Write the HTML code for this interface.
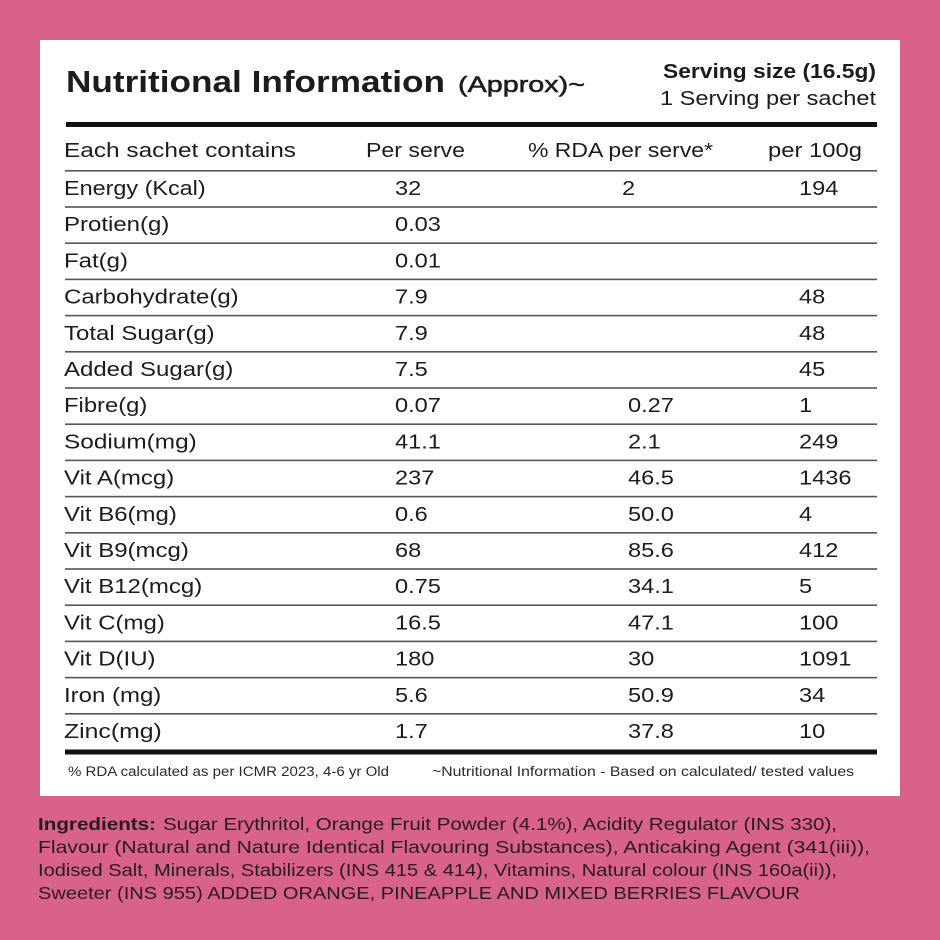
<!DOCTYPE html>
<html>
<head>
<meta charset="utf-8">
<style>
  html,body{margin:0;padding:0;background:#d8628a;}
  svg{display:block;}
  text{font-family:"Liberation Sans",sans-serif;}
</style>
</head>
<body>
<svg width="940" height="940" viewBox="0 0 940 940" xmlns="http://www.w3.org/2000/svg">
  <rect x="0" y="0" width="940" height="940" fill="#d8628a"/>
  <rect x="40" y="40" width="860" height="756" fill="#ffffff"/>

  <!-- Title -->
  <text x="66" y="92" font-size="31" font-weight="bold" fill="#1c1c1c" textLength="379" lengthAdjust="spacingAndGlyphs">Nutritional Information</text>
  <text x="458" y="92" font-size="22" fill="#1c1c1c" stroke="#1c1c1c" stroke-width="0.5" textLength="127" lengthAdjust="spacingAndGlyphs">(Approx)~</text>

  <text x="663" y="78" font-size="20" font-weight="bold" fill="#1c1c1c" textLength="213" lengthAdjust="spacingAndGlyphs">Serving size (16.5g)</text>
  <text x="660" y="105" font-size="20" fill="#1c1c1c" textLength="216" lengthAdjust="spacingAndGlyphs">1 Serving per sachet</text>

  <!-- thick top line -->
  <rect x="66" y="122" width="811" height="5" fill="#111"/>

  <!-- header -->
  <g font-size="20" fill="#1c1c1c">
    <text x="64" y="157" textLength="232" lengthAdjust="spacingAndGlyphs">Each sachet contains</text>
    <text x="366" y="157" textLength="99" lengthAdjust="spacingAndGlyphs">Per serve</text>
    <text x="528" y="157" textLength="185" lengthAdjust="spacingAndGlyphs">% RDA per serve*</text>
    <text x="768" y="157" textLength="94" lengthAdjust="spacingAndGlyphs">per 100g</text>
  </g>

  <!-- row lines -->
  <g fill="#555">
    <rect x="65" y="170" width="812" height="1.6"/>
    <rect x="65" y="206.2" width="812" height="1.6"/>
    <rect x="65" y="242.4" width="812" height="1.6"/>
    <rect x="65" y="278.6" width="812" height="1.6"/>
    <rect x="65" y="314.8" width="812" height="1.6"/>
    <rect x="65" y="351" width="812" height="1.6"/>
    <rect x="65" y="387.2" width="812" height="1.6"/>
    <rect x="65" y="423.4" width="812" height="1.6"/>
    <rect x="65" y="459.6" width="812" height="1.6"/>
    <rect x="65" y="495.8" width="812" height="1.6"/>
    <rect x="65" y="532" width="812" height="1.6"/>
    <rect x="65" y="568.2" width="812" height="1.6"/>
    <rect x="65" y="604.4" width="812" height="1.6"/>
    <rect x="65" y="640.6" width="812" height="1.6"/>
    <rect x="65" y="676.8" width="812" height="1.6"/>
    <rect x="65" y="713" width="812" height="1.6"/>
  </g>
  <!-- thick bottom line -->
  <rect x="65" y="749.5" width="812" height="5" fill="#111"/>

  <!-- rows -->
  <g font-size="20" fill="#1c1c1c">
    <text transform="translate(64,195) scale(1.17,1)">Energy (Kcal)</text>
    <text transform="translate(395,195) scale(1.18,1)">32</text>
    <text transform="translate(622,195) scale(1.18,1)">2</text>
    <text transform="translate(799,195) scale(1.18,1)">194</text>

    <text transform="translate(64,231.2) scale(1.2,1)">Protien(g)</text>
    <text transform="translate(395,231.2) scale(1.18,1)">0.03</text>

    <text transform="translate(64,267.4) scale(1.2,1)">Fat(g)</text>
    <text transform="translate(395,267.4) scale(1.18,1)">0.01</text>

    <text transform="translate(64,303.6) scale(1.2,1)">Carbohydrate(g)</text>
    <text transform="translate(395,303.6) scale(1.18,1)">7.9</text>
    <text transform="translate(799,303.6) scale(1.18,1)">48</text>

    <text transform="translate(64,339.8) scale(1.2,1)">Total Sugar(g)</text>
    <text transform="translate(395,339.8) scale(1.18,1)">7.9</text>
    <text transform="translate(799,339.8) scale(1.18,1)">48</text>

    <text transform="translate(64,376) scale(1.2,1)">Added Sugar(g)</text>
    <text transform="translate(395,376) scale(1.18,1)">7.5</text>
    <text transform="translate(799,376) scale(1.18,1)">45</text>

    <text transform="translate(64,412.2) scale(1.19,1)">Fibre(g)</text>
    <text transform="translate(395,412.2) scale(1.18,1)">0.07</text>
    <text transform="translate(628,412.2) scale(1.18,1)">0.27</text>
    <text transform="translate(799,412.2) scale(1.18,1)">1</text>

    <text transform="translate(64,448.4) scale(1.22,1)">Sodium(mg)</text>
    <text transform="translate(395,448.4) scale(1.18,1)">41.1</text>
    <text transform="translate(628,448.4) scale(1.18,1)">2.1</text>
    <text transform="translate(799,448.4) scale(1.18,1)">249</text>

    <text transform="translate(64,484.6) scale(1.2,1)">Vit A(mcg)</text>
    <text transform="translate(395,484.6) scale(1.18,1)">237</text>
    <text transform="translate(628,484.6) scale(1.18,1)">46.5</text>
    <text transform="translate(799,484.6) scale(1.18,1)">1436</text>

    <text transform="translate(64,520.8) scale(1.2,1)">Vit B6(mg)</text>
    <text transform="translate(395,520.8) scale(1.18,1)">0.6</text>
    <text transform="translate(628,520.8) scale(1.18,1)">50.0</text>
    <text transform="translate(799,520.8) scale(1.18,1)">4</text>

    <text transform="translate(64,557) scale(1.2,1)">Vit B9(mcg)</text>
    <text transform="translate(395,557) scale(1.18,1)">68</text>
    <text transform="translate(628,557) scale(1.18,1)">85.6</text>
    <text transform="translate(799,557) scale(1.18,1)">412</text>

    <text transform="translate(64,593.2) scale(1.2,1)">Vit B12(mcg)</text>
    <text transform="translate(395,593.2) scale(1.18,1)">0.75</text>
    <text transform="translate(628,593.2) scale(1.18,1)">34.1</text>
    <text transform="translate(799,593.2) scale(1.18,1)">5</text>

    <text transform="translate(64,629.4) scale(1.2,1)">Vit C(mg)</text>
    <text transform="translate(395,629.4) scale(1.18,1)">16.5</text>
    <text transform="translate(628,629.4) scale(1.18,1)">47.1</text>
    <text transform="translate(799,629.4) scale(1.18,1)">100</text>

    <text transform="translate(64,665.6) scale(1.2,1)">Vit D(IU)</text>
    <text transform="translate(395,665.6) scale(1.18,1)">180</text>
    <text transform="translate(628,665.6) scale(1.18,1)">30</text>
    <text transform="translate(799,665.6) scale(1.18,1)">1091</text>

    <text transform="translate(64,701.8) scale(1.2,1)">Iron (mg)</text>
    <text transform="translate(395,701.8) scale(1.18,1)">5.6</text>
    <text transform="translate(628,701.8) scale(1.18,1)">50.9</text>
    <text transform="translate(799,701.8) scale(1.18,1)">34</text>

    <text transform="translate(64,738) scale(1.24,1)">Zinc(mg)</text>
    <text transform="translate(395,738) scale(1.18,1)">1.7</text>
    <text transform="translate(628,738) scale(1.18,1)">37.8</text>
    <text transform="translate(799,738) scale(1.18,1)">10</text>
  </g>

  <!-- footnotes -->
  <g font-size="13.5" fill="#2a2a2a">
    <text x="68" y="776" textLength="321" lengthAdjust="spacingAndGlyphs">% RDA calculated as per ICMR 2023, 4-6 yr Old</text>
    <text x="432" y="776" textLength="422" lengthAdjust="spacingAndGlyphs">~Nutritional Information - Based on calculated/ tested values</text>
  </g>

  <!-- ingredients -->
  <g font-size="17.5" fill="#2a1a20">
    <text x="38" y="830" font-weight="bold" textLength="118" lengthAdjust="spacingAndGlyphs">Ingredients:</text>
    <text x="163" y="830" textLength="674" lengthAdjust="spacingAndGlyphs">Sugar Erythritol, Orange Fruit Powder (4.1%), Acidity Regulator (INS 330),</text>
    <text x="38" y="853" textLength="832" lengthAdjust="spacingAndGlyphs">Flavour (Natural and Nature Identical Flavouring Substances), Anticaking Agent (341(iii)),</text>
    <text x="38" y="876" textLength="799" lengthAdjust="spacingAndGlyphs">Iodised Salt, Minerals, Stabilizers (INS 415 &amp; 414), Vitamins, Natural colour (INS 160a(ii)),</text>
    <text x="38" y="899" textLength="762" lengthAdjust="spacingAndGlyphs">Sweeter (INS 955) ADDED ORANGE, PINEAPPLE AND MIXED BERRIES FLAVOUR</text>
  </g>
</svg>
</body>
</html>
